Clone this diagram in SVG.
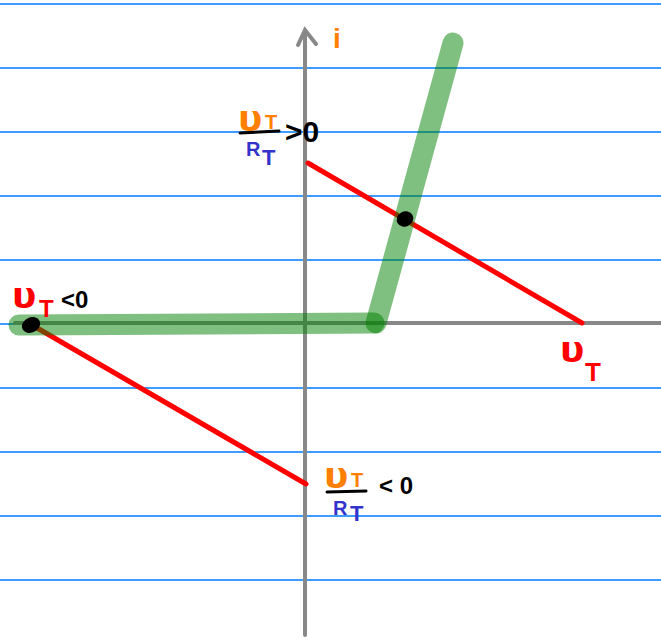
<svg xmlns="http://www.w3.org/2000/svg" width="661" height="641" viewBox="0 0 661 641">
<style>
.grid{stroke:#3f9cff;stroke-width:2}
.axis{stroke:#888888;stroke-width:4;fill:none;stroke-linecap:round}
.load{stroke:#ff0000;stroke-width:5;stroke-linecap:round}
.band{stroke:#008000;stroke-opacity:0.5;stroke-width:21;stroke-linecap:round;fill:none}
.pt{fill:#000000}
.v{font-family:"DejaVu Sans",sans-serif;font-weight:bold}
.s{font-family:"Liberation Sans",sans-serif;font-weight:bold}
.or{fill:#ff8000}
.rd{fill:#ff0000}
.bl{fill:#3333cc}
.bk{fill:#000000}
.bar{stroke:#000000;stroke-width:3;stroke-linecap:round}
</style>
<rect width="661" height="641" fill="#ffffff"/>
<g id="grid">
<line class="grid" x1="0" y1="4" x2="661" y2="4"/>
<line class="grid" x1="0" y1="68" x2="661" y2="68"/>
<line class="grid" x1="0" y1="132" x2="661" y2="132"/>
<line class="grid" x1="0" y1="196" x2="661" y2="196"/>
<line class="grid" x1="0" y1="260" x2="661" y2="260"/>
<line class="grid" x1="0" y1="324" x2="661" y2="324"/>
<line class="grid" x1="0" y1="388" x2="661" y2="388"/>
<line class="grid" x1="0" y1="452" x2="661" y2="452"/>
<line class="grid" x1="0" y1="516" x2="661" y2="516"/>
<line class="grid" x1="0" y1="580" x2="661" y2="580"/>
</g>
<g id="axes">
<line class="axis" x1="305" y1="31" x2="305" y2="635"/>
<polyline class="axis" points="298,45 305,30 316,44"/>
<line class="axis" x1="15" y1="323" x2="661" y2="323"/>
</g>
<g id="connectors">
<line class="load" x1="308" y1="163" x2="582" y2="323"/>
<line class="load" x1="32" y1="325" x2="306" y2="484"/>
<line class="band" x1="19" y1="325" x2="374" y2="323"/>
<line class="band" x1="376" y1="323" x2="453" y2="43"/>
</g>
<g id="points">
<ellipse class="pt" cx="405" cy="219" rx="8.5" ry="7.5" transform="rotate(-30 405 219)"/>
<ellipse class="pt" cx="31" cy="325" rx="9.5" ry="7.5" transform="rotate(-25 31 325)"/>
</g>
<g id="label-i">
<text class="s or" x="333" y="48" font-size="28">i</text>
</g>
<g id="label-top">
<text class="v or" x="238" y="131" font-size="36">υ</text>
<text class="s or" x="265" y="129" font-size="20">T</text>
<line class="bar" x1="240" y1="133" x2="279" y2="131"/>
<text class="s bl" x="246" y="156" font-size="20">R</text>
<text class="s bl" x="262" y="165" font-size="22">T</text>
<text class="s bk" x="285" y="142" font-size="30">&gt;0</text>
</g>
<g id="label-left">
<text class="v rd" x="12" y="308" font-size="36">υ</text>
<text class="s rd" x="39" y="317" font-size="24">T</text>
<text class="s bk" x="61" y="308" font-size="24">&lt;0</text>
</g>
<g id="label-bottom">
<text class="v or" x="324" y="488" font-size="36">υ</text>
<text class="s or" x="351" y="487" font-size="20">T</text>
<line class="bar" x1="327" y1="492" x2="366" y2="491"/>
<text class="s bl" x="333" y="515" font-size="20">R</text>
<text class="s bl" x="350" y="521" font-size="22">T</text>
<text class="s bk" x="379" y="494" font-size="24">&lt; 0</text>
</g>
<g id="label-right">
<text class="v rd" x="560" y="362" font-size="36">υ</text>
<text class="s rd" x="585" y="381" font-size="26">T</text>
</g>
</svg>
